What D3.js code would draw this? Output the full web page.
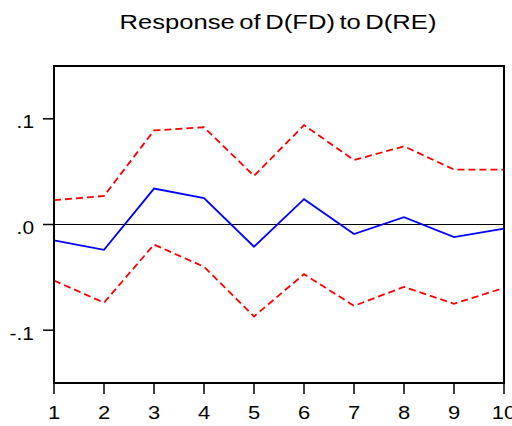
<!DOCTYPE html>
<html>
<head>
<meta charset="utf-8">
<script src="https://d3js.org/d3.v7.min.js"></script>
<style>
  body { margin: 0; background: #fff; }
  text { font-family: "Liberation Sans", Arial, sans-serif; fill: #000; }
</style>
</head>
<body>
<div id="irf"></div>
<script>
// Impulse response of D(FD) to D(RE), with +/- 2 S.E. bands
var periods = [1, 2, 3, 4, 5, 6, 7, 8, 9, 10];
var response = [-0.015, -0.024, 0.034, 0.025, -0.021, 0.024, -0.009, 0.007, -0.012, -0.004];
var upperBand = [0.023, 0.027, 0.089, 0.092, 0.046, 0.094, 0.061, 0.074, 0.052, 0.052];
var lowerBand = [-0.053, -0.074, -0.019, -0.040, -0.087, -0.047, -0.077, -0.059, -0.075, -0.060];
var yTicks = [-0.1, 0, 0.1];
var yTickLabels = ["-.1", ".0", ".1"];

var width = 512, height = 426;
var margin = {top: 66, left: 54, bottom: 43, right: 8};

// The original graph has horizontally stretched lettering
var stretch = 1.22;

var svg = d3.select("#irf")
  .append("svg")
  .attr("width", width)
  .attr("height", height)
  .style("display", "block");

var xScale = d3.scaleLinear()
  .domain([1, 10])
  .range([margin.left, width - margin.right]);

var yScale = d3.scaleLinear()
  .domain([-0.15, 0.15])
  .range([height - margin.bottom, margin.top]);

var line = d3.line()
  .x(function(d, i) { return xScale(periods[i]); })
  .y(function(d) { return yScale(d); });

// Zero line
svg.append("line")
  .attr("x1", xScale(1)).attr("x2", xScale(10))
  .attr("y1", yScale(0)).attr("y2", yScale(0))
  .attr("stroke", "#000")
  .attr("stroke-width", 1.2);

// Confidence bands (dashed red)
[upperBand, lowerBand].forEach(function(band) {
  svg.append("path")
    .datum(band)
    .attr("d", line)
    .attr("fill", "none")
    .attr("stroke", "#ff0000")
    .attr("stroke-width", 1.8)
    .attr("stroke-dasharray", "7,4");
});

// Response (solid blue)
svg.append("path")
  .datum(response)
  .attr("d", line)
  .attr("fill", "none")
  .attr("stroke", "#0000ff")
  .attr("stroke-width", 1.8);

// Frame
svg.append("rect")
  .attr("x", xScale(1))
  .attr("y", yScale(0.15))
  .attr("width", xScale(10) - xScale(1))
  .attr("height", yScale(-0.15) - yScale(0.15))
  .attr("fill", "none")
  .attr("stroke", "#000")
  .attr("stroke-width", 2);

// Y ticks and labels
svg.selectAll("line.ytick")
  .data(yTicks)
  .enter().append("line")
  .attr("class", "ytick")
  .attr("x1", xScale(1) - 11).attr("x2", xScale(1))
  .attr("y1", function(d) { return yScale(d); })
  .attr("y2", function(d) { return yScale(d); })
  .attr("stroke", "#000")
  .attr("stroke-width", 1.5);

svg.selectAll("text.ylab")
  .data(yTicks)
  .enter().append("text")
  .attr("class", "ylab")
  .attr("transform", function(d) { return "translate(34," + (yScale(d) + 9.5) + ") scale(1.1,1)"; })
  .attr("text-anchor", "end")
  .style("font-size", "19px")
  .text(function(d, i) { return yTickLabels[i]; });

// X ticks and labels
svg.selectAll("line.xtick")
  .data(periods)
  .enter().append("line")
  .attr("class", "xtick")
  .attr("x1", function(d) { return xScale(d); })
  .attr("x2", function(d) { return xScale(d); })
  .attr("y1", yScale(-0.15)).attr("y2", yScale(-0.15) + 11)
  .attr("stroke", "#000")
  .attr("stroke-width", 1.5);

svg.selectAll("text.xlab")
  .data(periods)
  .enter().append("text")
  .attr("class", "xlab")
  .attr("transform", function(d) { return "translate(" + xScale(d) + ",419) scale(" + stretch + ",1)"; })
  .attr("text-anchor", "middle")
  .style("font-size", "18px")
  .text(function(d) { return d; });

// Title
svg.append("text")
  .attr("transform", "translate(" + ((xScale(1) + xScale(10)) / 2 - 1) + ",29) scale(1.28,1)")
  .attr("text-anchor", "middle")
  .style("font-size", "20px")
  .style("word-spacing", "-2px")
  .text("Response of D(FD) to D(RE)");
</script>
</body>
</html>
